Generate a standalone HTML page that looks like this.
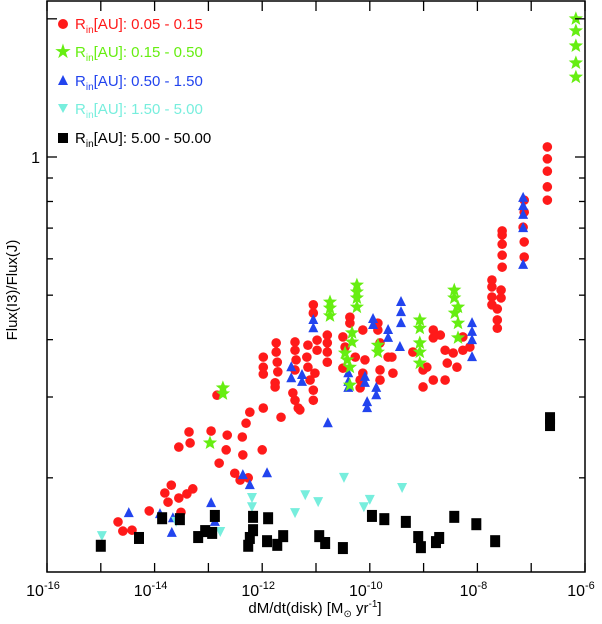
<!DOCTYPE html>
<html><head><meta charset="utf-8"><style>
html,body{margin:0;padding:0;background:#fff;}
svg{display:block;font-family:"Liberation Sans",sans-serif;}
</style></head><body>
<svg id="chart" width="602" height="624" xmlns="http://www.w3.org/2000/svg">
<g id="marks"></g>
<rect x="47" y="1" width="538" height="571" fill="none" stroke="#000" stroke-width="1.5"/>
<g id="axes"></g>
<g font-size="15">
 <g><circle cx="63" cy="24" r="5" fill="#ff1a1a"/><text x="75" y="29" fill="#ff1a1a">R<tspan font-size="10" dy="4">in</tspan><tspan dy="-4">[AU]: 0.05 - 0.15</tspan></text></g>
 <g><text x="63" y="58" fill="#66ee11" font-size="20" text-anchor="middle">★</text><text x="75" y="57" fill="#66ee11">R<tspan font-size="10" dy="4">in</tspan><tspan dy="-4">[AU]: 0.15 - 0.50</tspan></text></g>
 <g><polygon points="63,75 68,85 58,85" fill="#2244ee"/><text x="75" y="86" fill="#2244ee">R<tspan font-size="10" dy="4">in</tspan><tspan dy="-4">[AU]: 0.50 - 1.50</tspan></text></g>
 <g><polygon points="58,104 68,104 63,113" fill="#77eedd"/><text x="75" y="114" fill="#77eedd">R<tspan font-size="10" dy="4">in</tspan><tspan dy="-4">[AU]: 1.50 - 5.00</tspan></text></g>
 <g><rect x="58" y="133" width="10" height="10" fill="#000"/><text x="75" y="143" fill="#000">R<tspan font-size="10" dy="4">in</tspan><tspan dy="-4">[AU]: 5.00 - 50.00</tspan></text></g>
</g>
<text x="17" y="290" font-size="15" text-anchor="middle" transform="rotate(-90 17 290)">Flux(I3)/Flux(J)</text>
<text x="315" y="613" font-size="15" text-anchor="middle">dM/dt(disk) [M<tspan font-size="10" dy="4">⊙</tspan><tspan dy="-4"> yr</tspan><tspan font-size="10" dy="-6">-1</tspan><tspan dy="6">]</tspan></text>
</svg>
<script>
// data: log10(dM/dt) and log10(flux ratio)
const redLogX=[-14.68,-14.59,-14.42,-14.10,-13.81,-13.69,-13.75,-13.55,-13.40,-13.29,-13.51,-13.55,-13.36,-13.34,-12.95,-12.84,-12.65,-12.67,-12.80,-12.37,-12.30,-12.23,-11.98,-12.00,-12.51,-12.41,-12.36,-12.26,-11.98,-11.76,-11.98,-11.98,-11.74,-11.74,-11.72,-11.71,-11.76,-11.65,-11.39,-11.39,-11.37,-11.39,-11.43,-11.39,-11.33,-11.15,-11.17,-11.15,-11.11,-11.05,-11.05,-10.98,-10.98,-11.02,-11.05,-11.05,-10.79,-10.79,-10.79,-10.79,-11.30,-10.50,-10.46,-10.50,-10.37,-10.37,-10.27,-10.18,-10.18,-10.13,-10.09,-10.13,-9.85,-9.85,-9.81,-9.81,-9.81,-9.66,-9.59,-9.57,-9.20,-9.01,-9.01,-8.94,-8.82,-8.82,-8.69,-8.82,-8.60,-8.56,-8.60,-8.45,-8.38,-8.27,-8.27,-8.14,-7.73,-7.73,-7.73,-7.73,-7.63,-7.63,-6.70,-6.70,-6.70,-6.70,-6.70,-7.13,-7.13,-7.15,-7.13,-7.13,-7.54,-7.54,-7.54,-7.54,-7.54,-7.56,-7.56,-7.63];
const redLogY=[-0.795,-0.815,-0.813,-0.771,-0.732,-0.715,-0.752,-0.743,-0.734,-0.723,-0.774,-0.632,-0.599,-0.623,-0.597,-0.519,-0.606,-0.638,-0.667,-0.610,-0.580,-0.556,-0.547,-0.638,-0.689,-0.704,-0.649,-0.699,-0.473,-0.492,-0.436,-0.458,-0.405,-0.425,-0.447,-0.468,-0.501,-0.567,-0.403,-0.421,-0.442,-0.464,-0.514,-0.530,-0.547,-0.410,-0.436,-0.458,-0.486,-0.322,-0.340,-0.399,-0.421,-0.471,-0.508,-0.530,-0.388,-0.405,-0.425,-0.447,-0.551,-0.392,-0.414,-0.460,-0.349,-0.362,-0.436,-0.486,-0.503,-0.377,-0.442,-0.471,-0.362,-0.377,-0.405,-0.464,-0.486,-0.436,-0.436,-0.471,-0.425,-0.464,-0.501,-0.458,-0.377,-0.394,-0.388,-0.486,-0.421,-0.449,-0.486,-0.427,-0.458,-0.392,-0.421,-0.414,-0.268,-0.283,-0.305,-0.322,-0.355,-0.373,0.022,-0.004,-0.031,-0.065,-0.094,-0.094,-0.120,-0.153,-0.185,-0.218,-0.161,-0.170,-0.190,-0.214,-0.240,-0.290,-0.307,-0.331];
const greenLogX=[-6.17,-6.17,-6.17,-6.17,-6.17,-8.43,-8.43,-8.36,-8.42,-10.74,-10.74,-10.74,-10.24,-10.24,-10.24,-10.24,-10.33,-10.33,-10.46,-10.42,-10.37,-9.85,-9.85,-9.07,-9.07,-9.07,-9.07,-9.07,-8.36,-8.36,-10.37,-12.73,-12.73,-12.97];
const greenLogY=[0.301,0.275,0.242,0.205,0.174,-0.290,-0.307,-0.327,-0.340,-0.316,-0.329,-0.346,-0.279,-0.294,-0.307,-0.327,-0.383,-0.403,-0.427,-0.442,-0.458,-0.410,-0.425,-0.355,-0.373,-0.405,-0.425,-0.449,-0.362,-0.394,-0.497,-0.503,-0.516,-0.623];
const blueLogX=[-14.48,-13.90,-13.66,-13.68,-12.95,-12.88,-12.36,-12.23,-11.91,-11.05,-11.05,-11.46,-11.46,-11.26,-11.26,-10.40,-10.40,-10.40,-10.09,-10.09,-9.88,-9.88,-10.05,-10.05,-10.78,-9.94,-9.94,-9.66,-9.66,-9.42,-9.42,-9.42,-9.44,-8.10,-8.10,-8.10,-8.10,-7.15,-7.15,-7.15,-7.15,-7.15];
const blueLogY=[-0.776,-0.778,-0.787,-0.819,-0.754,-0.795,-0.693,-0.715,-0.689,-0.355,-0.373,-0.458,-0.482,-0.475,-0.490,-0.471,-0.490,-0.503,-0.479,-0.492,-0.503,-0.519,-0.534,-0.547,-0.580,-0.353,-0.366,-0.377,-0.394,-0.316,-0.338,-0.362,-0.414,-0.362,-0.381,-0.399,-0.436,-0.089,-0.107,-0.126,-0.155,-0.235];
const cyanLogX=[-14.98,-13.60,-12.78,-12.19,-12.19,-11.39,-11.20,-10.96,-10.48,-10.11,-10.00,-9.40];
const cyanLogY=[-0.826,-0.795,-0.817,-0.743,-0.763,-0.776,-0.737,-0.752,-0.699,-0.763,-0.747,-0.721];
const blackLogX=[-15.00,-14.29,-13.86,-13.53,-13.19,-13.06,-12.93,-12.88,-12.26,-12.17,-12.17,-12.23,-11.89,-11.91,-11.72,-11.61,-10.94,-10.83,-10.50,-9.96,-9.73,-9.33,-9.10,-9.05,-8.77,-8.71,-8.43,-8.02,-7.67,-6.65,-6.65];
const blackLogY=[-0.847,-0.830,-0.787,-0.789,-0.828,-0.815,-0.819,-0.782,-0.847,-0.784,-0.813,-0.830,-0.787,-0.837,-0.845,-0.826,-0.826,-0.841,-0.852,-0.782,-0.789,-0.795,-0.828,-0.850,-0.839,-0.830,-0.784,-0.800,-0.837,-0.584,-0.569];
const xTickExps=[-16,-15,-14,-13,-12,-11,-10,-9,-8,-7,-6];
const xLabelExps=[-16,-14,-12,-10,-8,-6];
const yTickVals=[0.2,0.3,0.4,0.5,0.6,0.7,0.8,0.9,1,2];
const yLabelVals=[1];

const L=47,R=585,T=1,B=572;
const xMin=-16,xMax=-6;
const sx=v=>L+(v-xMin)/(xMax-xMin)*(R-L);
const sy=lv=>157-lv*459;
const NS='http://www.w3.org/2000/svg';
const marks=document.getElementById('marks'), axes=document.getElementById('axes');
function mk(tag,attrs,parent){const e=document.createElementNS(NS,tag);for(const k in attrs)e.setAttribute(k,attrs[k]);parent.appendChild(e);return e;}

function starPts(cx,cy,ro,ri){let p=[];for(let i=0;i<10;i++){const a=-Math.PI/2+i*Math.PI/5,r=i%2?ri:ro;p.push((cx+r*Math.cos(a)).toFixed(1)+','+(cy+r*Math.sin(a)).toFixed(1));}return p.join(' ');}

redLogX.forEach((v,i)=>{const e=mk('circle',{cx:sx(v),cy:sy(redLogY[i]),r:4.8,fill:'#ff1a1a'},marks);

});
blueLogX.forEach((v,i)=>{const x=sx(v),y=sy(blueLogY[i]);const e=mk('polygon',{points:`${x},${y-6} ${x+5},${y+4} ${x-5},${y+4}`,fill:'#2244ee'},marks);

});
cyanLogX.forEach((v,i)=>{const x=sx(v),y=sy(cyanLogY[i]);const e=mk('polygon',{points:`${x-5},${y-5} ${x+5},${y-5} ${x},${y+5}`,fill:'#77eedd'},marks);

});
greenLogX.forEach((v,i)=>{const e=mk('polygon',{points:starPts(sx(v),sy(greenLogY[i]),7.5,3.2),fill:'#66ee11'},marks);

});
blackLogX.forEach((v,i)=>{const e=mk('rect',{x:sx(v)-5,y:sy(blackLogY[i])-6,width:10,height:12,fill:'#000'},marks);

});

xTickExps.forEach(v=>{const x=sx(v);
const a=mk('line',{x1:x,x2:x,y1:B,y2:B-9,stroke:'#000','stroke-width':1.3},axes);


const b=mk('line',{x1:x,x2:x,y1:T,y2:T+10,stroke:'#000','stroke-width':1.3},axes);

});
xLabelExps.forEach(v=>{const t=mk('text',{x:sx(v)-4,y:596,'font-size':16,'text-anchor':'middle'},axes);


t.innerHTML=`10<tspan font-size="11" dy="-7">${v}</tspan>`;});
yTickVals.forEach(v=>{const y=sy(Math.log10(v));const len=(v===1||v===2)?10:6;
const a=mk('line',{x1:L,x2:L+len,y1:y,y2:y,stroke:'#000','stroke-width':1.3},axes);


const b=mk('line',{x1:R,x2:R-len,y1:y,y2:y,stroke:'#000','stroke-width':1.3},axes);

});
yLabelVals.forEach(v=>{const t=mk('text',{x:40,y:sy(Math.log10(v))+6,'font-size':16,'text-anchor':'end'},axes);


t.textContent=String(v);});
</script>
</body></html>
